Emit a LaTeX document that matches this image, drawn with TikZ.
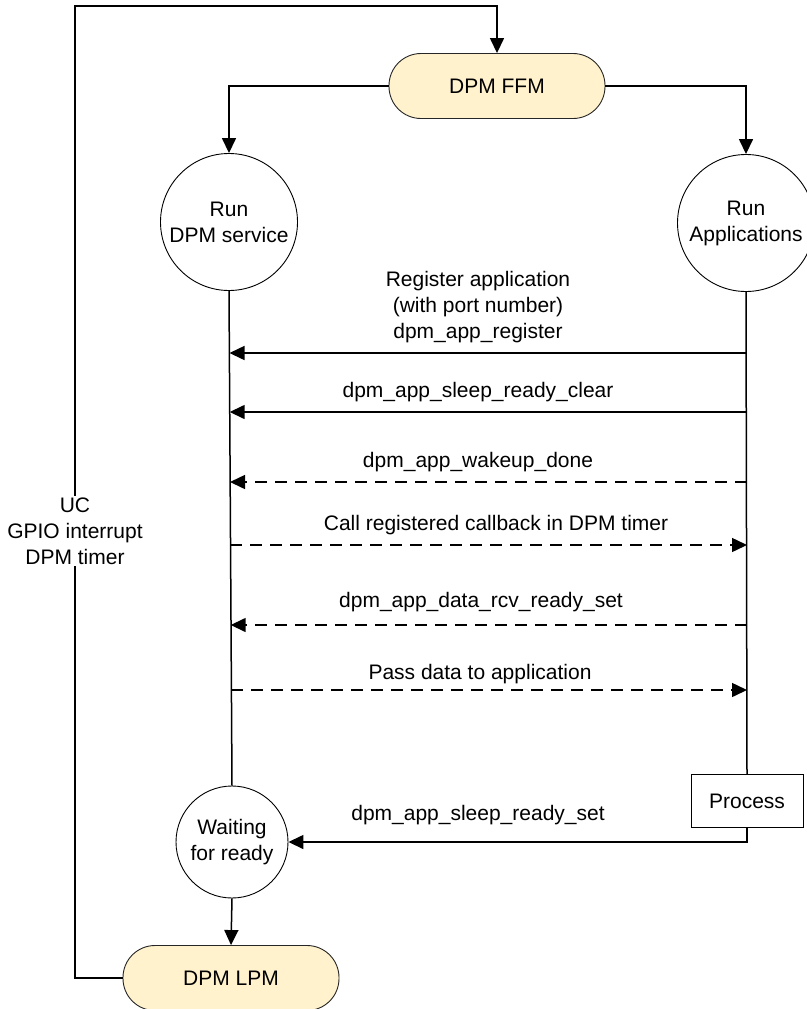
\documentclass[tikz,border=0pt]{standalone}
\usepackage{fontspec}
\setmainfont{Liberation Sans}
\usetikzlibrary{arrows.meta}
\definecolor{pillfill}{RGB}{255,242,204}
\begin{document}
\begin{tikzpicture}[x=1pt,y=-1pt,
  every node/.style={font=\fontsize{21}{26}\selectfont, align=center, inner sep=0pt},
  pill/.style={draw=black!85, line width=0.9pt, fill=pillfill, rounded corners=32pt, minimum width=216pt, minimum height=65pt},
  statecirc/.style={draw, circle, line width=0.9pt, fill=white},
  procbox/.style={draw, rectangle, line width=0.9pt, minimum width=112pt, minimum height=53pt},
  conn/.style={line width=1.5pt},
  arr/.style={conn, -{Triangle[length=15pt,width=14pt]}},
  darr/.style={arr, dash pattern=on 12pt off 8pt},
  lab/.style={}
]
\useasboundingbox (0,0) rectangle (806,1009);

% nodes
\node[pill] (ffm) at (497,86) {DPM FFM};
\node[statecirc, minimum size=137pt] (svc) at (229,222) {Run\\DPM service};
\node[statecirc, minimum size=137pt] (app) at (746,223) {Run\\Applications};
\node[statecirc, minimum size=112pt] (wait) at (232,842) {Waiting\\for ready};
\node[pill] (lpm) at (231,978) {DPM LPM};
\node[procbox] (proc) at (747,801) {Process};

% flow from FFM
\draw[arr] (ffm.west) -| (svc.north);
\draw[arr] (ffm.east) -| (app.north);
\draw[conn] (svc.south) -- (wait.north);
\draw[conn] (app.south) -- (proc.north);
\draw[arr] (proc.south) |- (wait.east);
\draw[arr] (wait.south) -- (lpm.north);

% loop back
\coordinate (loopTL) at (75,6);
\draw[arr] (lpm.west) -| (loopTL) -| (ffm.north);
\node[fill=white, inner sep=2pt] (uc) at (75,531) {UC\\GPIO interrupt\\DPM timer};

% message arrows
\coordinate (l1) at (229.5,353); \coordinate (r1) at (747,353);
\coordinate (l2) at (229.7,412); \coordinate (r2) at (747,412);
\coordinate (l3) at (230,482);   \coordinate (r3) at (747,482);
\coordinate (l4) at (230.3,545); \coordinate (r4) at (747,545);
\coordinate (l5) at (230.7,625); \coordinate (r5) at (747,625);
\coordinate (l6) at (231,690);   \coordinate (r6) at (747,690);

\draw[arr] (r1) -- (l1);
\draw[arr] (r2) -- (l2);
\draw[darr] (r3) -- (l3);
\draw[darr] (l4) -- (r4);
\draw[darr] (r5) -- (l5);
\draw[darr] (l6) -- (r6);

\node[lab] (t1) at (478,307) {Register application\\(with port number)\\dpm\_app\_register};
\node[lab] (t2) at (478,392) {dpm\_app\_sleep\_ready\_clear};
\node[lab] (t3) at (478,462) {dpm\_app\_wakeup\_done};
\node[lab] (t4) at (496,525) {Call registered callback in DPM timer};
\node[lab] (t5) at (481,602) {dpm\_app\_data\_rcv\_ready\_set};
\node[lab] (t6) at (480,674) {Pass data to application};
\node[lab] (t7) at (478,815) {dpm\_app\_sleep\_ready\_set};
\end{tikzpicture}
\end{document}
